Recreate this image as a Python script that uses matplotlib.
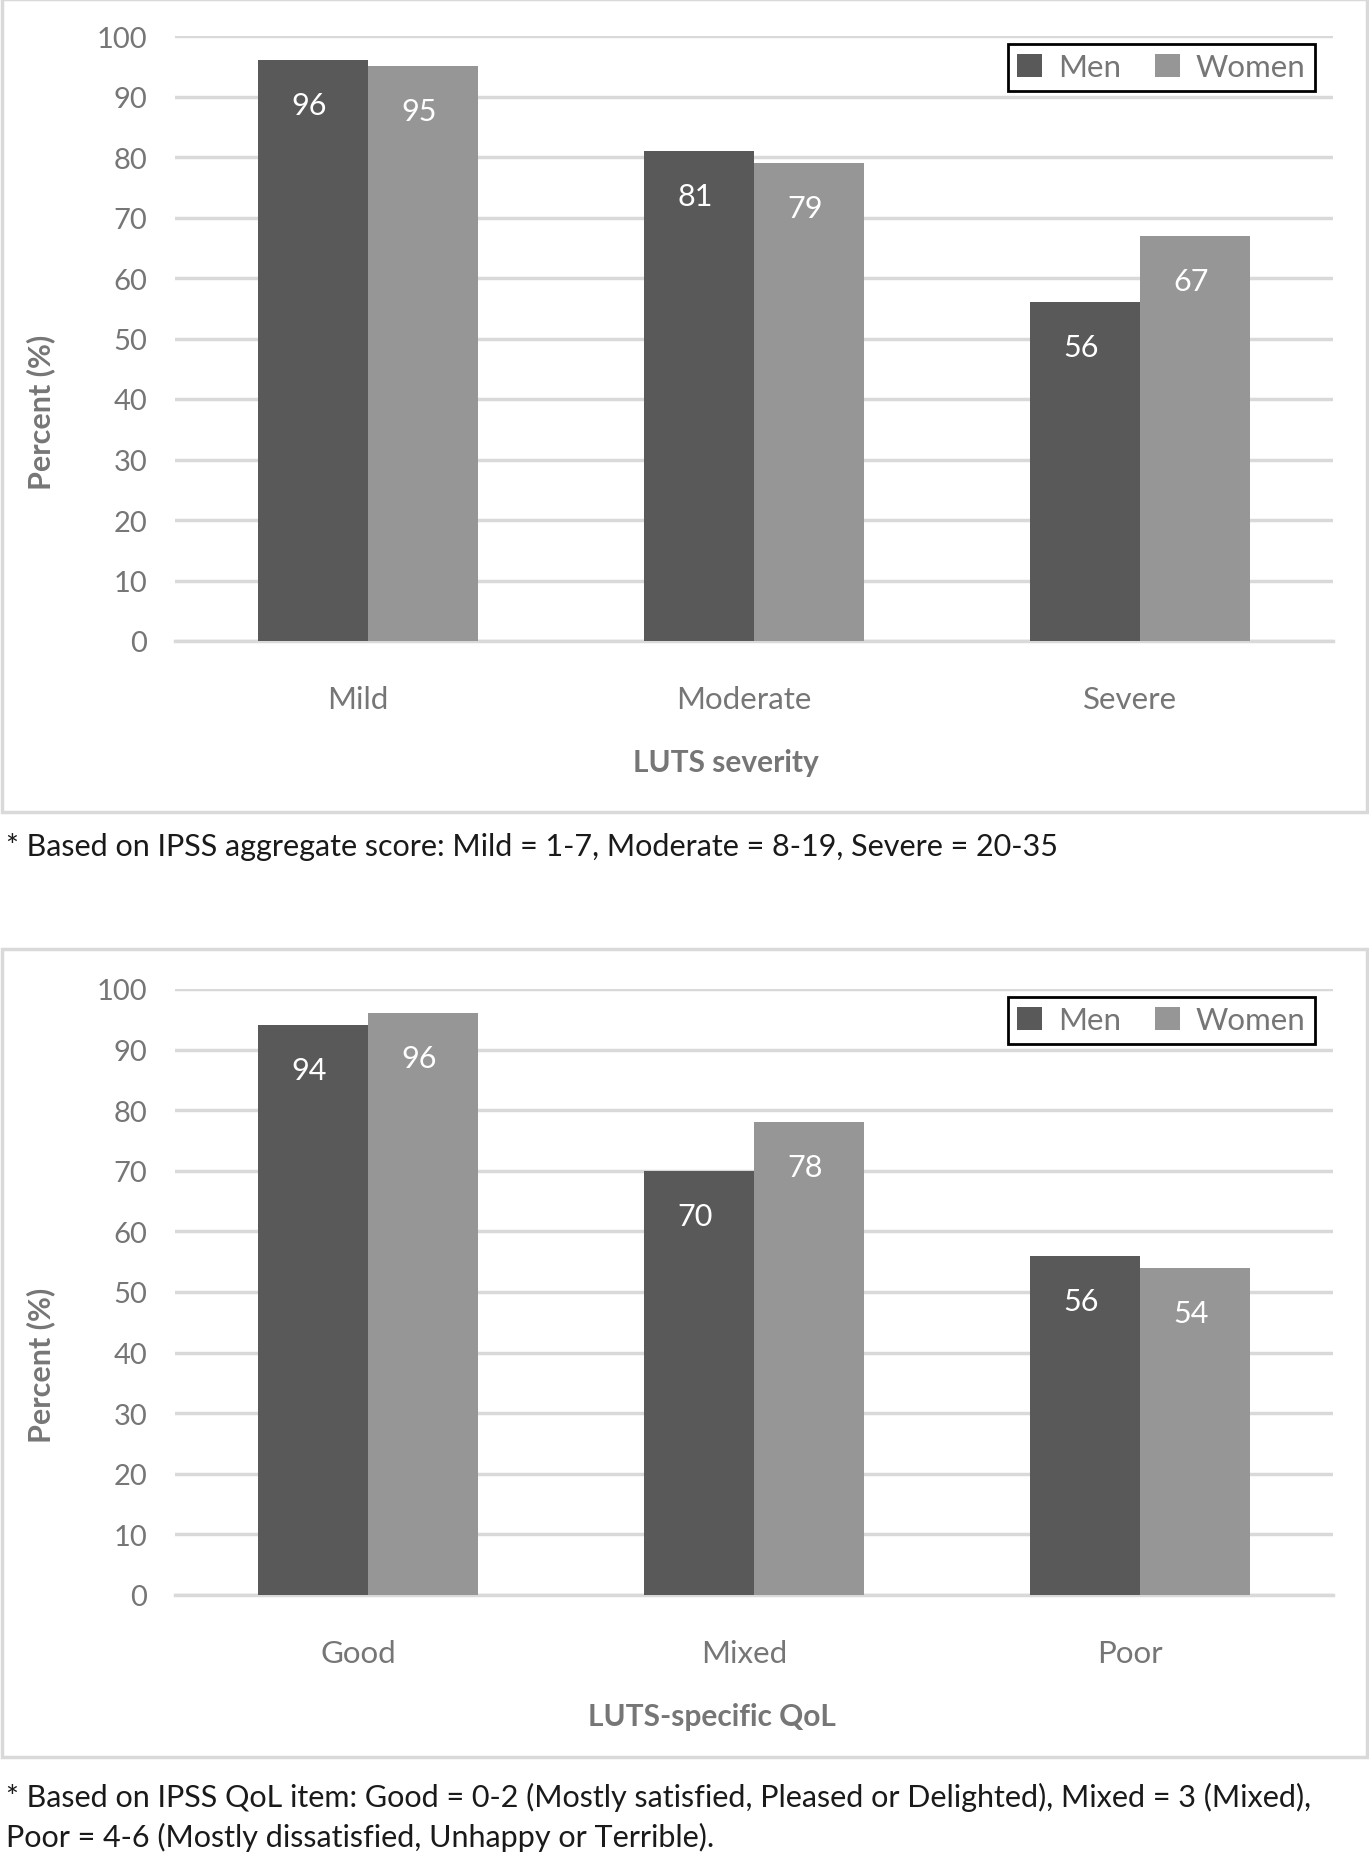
import matplotlib.pyplot as plt
import matplotlib.transforms as mtrans
from matplotlib.patches import Rectangle

plt.rcParams['font.family'] = ['Lato', 'DejaVu Sans']

# data
severity_cats = ['Mild', 'Moderate', 'Severe']
severity_men = [96, 81, 56]
severity_women = [95, 79, 67]

qol_cats = ['Good', 'Mixed', 'Poor']
qol_men = [94, 70, 56]
qol_women = [96, 78, 54]

series_names = ['Men', 'Women']
men_color = '#595959'
women_color = '#969696'
text_gray = '#767676'
grid_gray = '#d9d9d9'

W, H = 1369, 1856
fig = plt.figure(figsize=(W / 100, H / 100), dpi=100)


def fx(px):
    return px / W


def fy(py):
    return 1 - py / H


def panel(box_top, box_bot, ax_top, ax_bot, cats, men, women, xtitle, ylab_y, title_x):
    # outer chart border
    fig.patches.append(Rectangle((fx(2), fy(box_bot)), fx(1365), box_bot / H - box_top / H,
                                 transform=fig.transFigure, fill=False,
                                 edgecolor=grid_gray, linewidth=2.5))
    ax = fig.add_axes([fx(175), fy(ax_bot), fx(1333 - 175), (ax_bot - ax_top) / H])
    x = list(range(len(cats)))
    w = 0.285
    b1 = ax.bar([i - w / 2 for i in x], men, width=w, color=men_color, label=series_names[0], zorder=3)
    b2 = ax.bar([i + w / 2 for i in x], women, width=w, color=women_color, label=series_names[1], zorder=3)
    for bars, vals in ((b1, men), (b2, women)):
        for r, v in zip(bars, vals):
            ax.annotate(f'{v}', (r.get_x() + r.get_width() / 2, v), xytext=(-4, -45),
                        textcoords='offset pixels', ha='center', va='center',
                        color='white', fontsize=22, zorder=4)
    ax.set_xlim(-0.5, len(cats) - 0.5)
    ax.set_ylim(0, 100)
    ax.set_yticks(range(0, 101, 10))
    ax.grid(axis='y', color=grid_gray, linewidth=2.5, zorder=0)
    for s in ('top', 'right', 'left'):
        ax.spines[s].set_visible(False)
    ax.spines['bottom'].set_color(grid_gray)
    ax.spines['bottom'].set_linewidth(2.5)
    ax.set_xticks(x)
    ax.set_xticklabels(cats)
    ax.tick_params(axis='both', length=0, colors=text_gray)
    ax.tick_params(axis='y', pad=20, labelsize=21)
    ax.tick_params(axis='x', pad=32, labelsize=22.5)
    shift = mtrans.ScaledTranslation(-10 / 100, 0, fig.dpi_scale_trans)
    for lab in ax.get_xticklabels():
        lab.set_transform(lab.get_transform() + shift)
    ax.text(fx(title_x), fy(ax_bot + 121), xtitle,
            transform=fig.transFigure, ha='center', va='center',
            fontsize=21.5, fontweight='bold', color=text_gray)
    fig.text(fx(41), fy(ylab_y), 'Percent (%)', rotation=90, ha='center', va='center',
             fontsize=22, fontweight='bold', color=text_gray)
    leg = ax.legend(loc='upper right', ncol=2, bbox_to_anchor=(fx(1315), fy(ax_top + 8)),
                    bbox_transform=fig.transFigure, borderaxespad=0, fancybox=False,
                    edgecolor='black', framealpha=1, fontsize=22.5, handlelength=0.8,
                    handleheight=0.8, handletextpad=0.5, columnspacing=1.1,
                    borderpad=0.3)
    leg.get_frame().set_linewidth(2)
    for t in leg.get_texts():
        t.set_color(text_gray)
    return ax


panel(0, 813, 37, 642, severity_cats, severity_men, severity_women, 'LUTS severity', 412, 726)
panel(950, 1758, 990, 1596, qol_cats, qol_men, qol_women, 'LUTS-specific QoL', 1365, 712)

fig.text(fx(6), fy(847), '* Based on IPSS aggregate score: Mild = 1-7, Moderate = 8-19, Severe = 20-35',
         ha='left', va='center', fontsize=22, color='#1a1a1a')
fig.text(fx(6), fy(1797), '* Based on IPSS QoL item: Good = 0-2 (Mostly satisfied, Pleased or Delighted), Mixed = 3 (Mixed),',
         ha='left', va='center', fontsize=22, color='#1a1a1a')
fig.text(fx(6), fy(1837), 'Poor = 4-6 (Mostly dissatisfied, Unhappy or Terrible).',
         ha='left', va='center', fontsize=22, color='#1a1a1a')

fig.savefig('out.png', dpi=100, facecolor='white')
